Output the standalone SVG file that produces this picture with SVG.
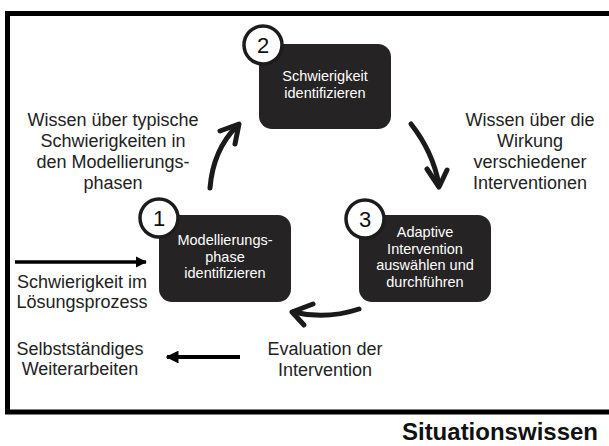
<svg xmlns="http://www.w3.org/2000/svg" width="609" height="446" viewBox="0 0 609 446">
<style>
.frame{fill:none;stroke:#000;stroke-width:5}
.box{fill:#262324}
.num{fill:#fff;stroke:#1c1c1c;stroke-width:3.5}
.numt{font-family:"Liberation Sans",Arial,sans-serif;font-size:22px;fill:#111;text-anchor:middle}
.bt{font-family:"Liberation Sans",Arial,sans-serif;font-size:14.5px;fill:#fff;text-anchor:middle}
.lt{font-family:"Liberation Sans",Arial,sans-serif;font-size:18px;fill:#222;text-anchor:middle}
.title{font-family:"Liberation Sans",Arial,sans-serif;font-size:24px;font-weight:bold;fill:#111;text-anchor:end}
.curve{fill:none;stroke:#1a1a1a;stroke-width:5;stroke-linecap:round;stroke-linejoin:round}
.straight{fill:none;stroke:#000;stroke-width:3.5}
</style>
<defs>
<marker id="ah" viewBox="0 0 10 10" refX="9" refY="5" markerWidth="3.2" markerHeight="3.2" orient="auto" markerUnits="strokeWidth">
<path d="M0,0 L10,5 L0,10 z" fill="#000"/>
</marker>
</defs>
<rect class="frame" x="7.5" y="13.5" width="615" height="398.5"/>

<g id="node2">
<rect class="box" x="259" y="44" width="132" height="85" rx="13"/>
<circle class="num" cx="263" cy="45" r="19"/>
<text class="numt" x="263" y="53">2</text>
<text class="bt" x="325" y="81">Schwierigkeit</text>
<text class="bt" x="325" y="97.5">identifizieren</text>
</g>

<g id="node1">
<rect class="box" x="159" y="215" width="132" height="87" rx="13"/>
<circle class="num" cx="159" cy="218" r="19"/>
<text class="numt" x="159" y="226">1</text>
<text class="bt" x="225" y="245">Modellierungs-</text>
<text class="bt" x="225" y="261.5">phase</text>
<text class="bt" x="225" y="278">identifizieren</text>
</g>

<g id="node3">
<rect class="box" x="359" y="215" width="132" height="87" rx="13"/>
<circle class="num" cx="365" cy="219" r="19"/>
<text class="numt" x="365" y="227">3</text>
<text class="bt" x="425" y="237">Adaptive</text>
<text class="bt" x="425" y="253.5">Intervention</text>
<text class="bt" x="425" y="270">auswählen und</text>
<text class="bt" x="425" y="286.5">durchführen</text>
</g>

<g id="labels">
<text class="lt" x="113" y="126">Wissen über typische</text>
<text class="lt" x="113" y="147">Schwierigkeiten in</text>
<text class="lt" x="113" y="168">den Modellierungs-</text>
<text class="lt" x="113" y="189">phasen</text>
<text class="lt" x="530" y="126">Wissen über die</text>
<text class="lt" x="530" y="147">Wirkung</text>
<text class="lt" x="530" y="168">verschiedener</text>
<text class="lt" x="530" y="189">Interventionen</text>
<text class="lt" x="82" y="288">Schwierigkeit im</text>
<text class="lt" x="82" y="308">Lösungsprozess</text>
<text class="lt" x="80" y="355">Selbstständiges</text>
<text class="lt" x="80" y="375">Weiterarbeiten</text>
<text class="lt" x="325" y="355">Evaluation der</text>
<text class="lt" x="325" y="376">Intervention</text>
<text class="title" x="598" y="440">Situationswissen</text>
</g>

<g id="connectors">
<path class="curve" d="M210,188 Q213,150 237,126"/>
<path class="curve" d="M220,131 L239,124 L235,144"/>
<path class="curve" d="M411,124 Q433,152 439,185"/>
<path class="curve" d="M427,169 L439,187 L447,170"/>
<path class="curve" d="M359,309 Q326,320 293,312"/>
<path class="curve" d="M313,304 L292,312 L304,325"/>
<line class="straight" x1="15" y1="262" x2="146" y2="262" marker-end="url(#ah)"/>
<line class="straight" x1="240" y1="357" x2="167" y2="357" marker-end="url(#ah)" style="stroke-width:4"/>
</g>
</svg>
